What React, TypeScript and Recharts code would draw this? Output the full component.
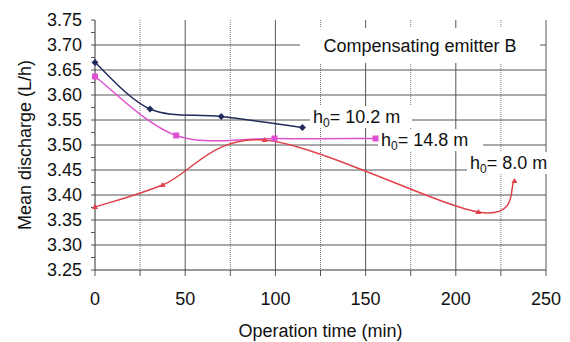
import { CartesianGrid, Line, LineChart, ReferenceArea, XAxis, YAxis } from "recharts";

// operation time (min) and mean discharge (L/h) per pressure head
const timeH102 = [0, 30.5, 70, 115];
const flowH102 = [3.665, 3.572, 3.557, 3.535];
const timeH148 = [0, 45, 99.5, 155.5];
const flowH148 = [3.637, 3.519, 3.513, 3.513];
const timeH80 = [0, 37.5, 94, 212.5, 232.5];
const flowH80 = [3.376, 3.42, 3.51, 3.366, 3.428];

const xTicks = [0, 25, 50, 75, 100, 125, 150, 175, 200, 225, 250];
const xSolidGrid = [50, 100, 150, 200, 250];
const xDottedGrid = [25, 75, 125, 175, 225];
const yTicks = [
  3.25, 3.275, 3.3, 3.325, 3.35, 3.375, 3.4, 3.425, 3.45, 3.475, 3.5, 3.525, 3.55, 3.575, 3.6, 3.625,
  3.65, 3.675, 3.7, 3.725, 3.75,
];
const yGrid = [3.3, 3.35, 3.4, 3.45, 3.5, 3.55, 3.6, 3.65, 3.7];

const FONT = "'Liberation Sans', Arial, sans-serif";
const NAVY = "#222a5c";
const PINK = "#df52cf";
const RED = "#e0404a";
const GRID = "#555";

const toPoints = (t: number[], q: number[]) => t.map((x, i) => ({ t: x, q: q[i] }));

// Excel-style smoothed line (Catmull-Rom through the points)
function smooth(context: any) {
  let pts: number[][] = [];
  return {
    areaStart() {},
    areaEnd() {},
    lineStart() {
      pts = [];
    },
    point(x: number, y: number) {
      pts.push([+x, +y]);
    },
    lineEnd() {
      const n = pts.length;
      if (!n) return;
      context.moveTo(pts[0][0], pts[0][1]);
      for (let i = 0; i < n - 1; i++) {
        const p0 = pts[Math.max(i - 1, 0)];
        const p1 = pts[i];
        const p2 = pts[i + 1];
        const p3 = pts[Math.min(i + 2, n - 1)];
        context.bezierCurveTo(
          p1[0] + (p2[0] - p0[0]) / 6,
          p1[1] + (p2[1] - p0[1]) / 6,
          p2[0] - (p3[0] - p1[0]) / 6,
          p2[1] - (p3[1] - p1[1]) / 6,
          p2[0],
          p2[1]
        );
      }
    },
  };
}

function Diamond({ cx, cy }: any) {
  if (cx == null) return null;
  const s = 3.5;
  return <path d={`M${cx},${cy - s}L${cx + s},${cy}L${cx},${cy + s}L${cx - s},${cy}Z`} fill={NAVY} />;
}

function Square({ cx, cy }: any) {
  if (cx == null) return null;
  return <rect x={cx - 3} y={cy - 3} width={6} height={6} fill={PINK} />;
}

function Triangle({ cx, cy }: any) {
  if (cx == null) return null;
  return <path d={`M${cx},${cy - 3}L${cx + 3},${cy + 2}L${cx - 3},${cy + 2}Z`} fill={RED} />;
}

function HeadLabel({ viewBox, value }: any) {
  const { x, y, height } = viewBox;
  return (
    <text x={x + 3} y={y + height / 2} dy="0.35em" fontSize={18} fontFamily={FONT} fill="#111">
      <tspan>h</tspan>
      <tspan fontSize={12} dy={4}>0</tspan>
      <tspan dy={-4}>{`= ${value} m`}</tspan>
    </text>
  );
}

function TitleLabel({ viewBox }: any) {
  const { x, y, width, height } = viewBox;
  return (
    <text x={x + width / 2} y={y + height / 2} dy="0.35em" textAnchor="middle" fontSize={18} fontFamily={FONT} fill="#111">
      Compensating emitter B
    </text>
  );
}

function YTitle({ viewBox }: any) {
  const cx = 25;
  const cy = viewBox.y + viewBox.height / 2;
  return (
    <text
      x={cx}
      y={cy}
      dy="0.35em"
      textAnchor="middle"
      transform={`rotate(-90, ${cx}, ${cy})`}
      fontSize={18}
      fontFamily={FONT}
      fill="#111"
    >
      Mean discharge (L/h)
    </text>
  );
}

export default function App() {
  return (
    <div style={{ position: "absolute", left: 0, top: 0, background: "#fff" }}>
      <LineChart width={570} height={342} margin={{ top: 20, right: 24, bottom: 0, left: 0 }}>
        <CartesianGrid horizontal={false} verticalValues={xDottedGrid} stroke="#777" strokeDasharray="1 1" />
        <CartesianGrid horizontalValues={yGrid} verticalValues={xSolidGrid} stroke={GRID} />
        <XAxis
          type="number"
          dataKey="t"
          domain={[0, 250]}
          ticks={xTicks}
          interval={0}
          allowDuplicatedCategory={false}
          tickFormatter={(v: number) => (v % 50 === 0 ? String(v) : "")}
          tick={{ fill: "#111", fontSize: 18, fontFamily: FONT }}
          tickSize={6}
          tickMargin={16}
          tickLine={{ stroke: GRID }}
          axisLine={{ stroke: "#333" }}
          height={72}
          label={{ value: "Operation time (min)", position: "insideBottom", offset: 5, fill: "#111", fontSize: 18, fontFamily: FONT }}
        />
        <YAxis
          type="number"
          domain={[3.25, 3.75]}
          ticks={yTicks}
          interval={0}
          tickFormatter={(v: number, i: number) => (i % 2 === 0 ? v.toFixed(2) : "")}
          tick={{ fill: "#111", fontSize: 18, fontFamily: FONT }}
          tickSize={4}
          tickMargin={9}
          tickLine={{ stroke: GRID }}
          axisLine={{ stroke: "#333" }}
          width={95}
          label={<YTitle />}
        />
        <ReferenceArea x1={113.6} x2={246.7} y1={3.664} y2={3.734} fill="#fff" fillOpacity={1} ifOverflow="visible" label={<TitleLabel />} />
        <ReferenceArea x1={119.2} x2={175.7} y1={3.534} y2={3.578} fill="#fff" fillOpacity={1} ifOverflow="visible" label={<HeadLabel value="10.2" />} />
        <ReferenceArea x1={156.9} x2={215.1} y1={3.488} y2={3.532} fill="#fff" fillOpacity={1} ifOverflow="visible" label={<HeadLabel value="14.8" />} />
        <ReferenceArea x1={206.2} x2={255.5} y1={3.442} y2={3.486} fill="#fff" fillOpacity={1} ifOverflow="visible" label={<HeadLabel value="8.0" />} />
        <Line
          data={toPoints(timeH102, flowH102)}
          dataKey="q"
          type={smooth as any}
          stroke={NAVY}
          strokeWidth={1.5}
          dot={<Diamond />}
          activeDot={false}
          isAnimationActive={false}
        />
        <Line
          data={toPoints(timeH148, flowH148)}
          dataKey="q"
          type={smooth as any}
          stroke={PINK}
          strokeWidth={1.5}
          dot={<Square />}
          activeDot={false}
          isAnimationActive={false}
        />
        <Line
          data={toPoints(timeH80, flowH80)}
          dataKey="q"
          type={smooth as any}
          stroke={RED}
          strokeWidth={1.5}
          dot={<Triangle />}
          activeDot={false}
          isAnimationActive={false}
        />
      </LineChart>
    </div>
  );
}
